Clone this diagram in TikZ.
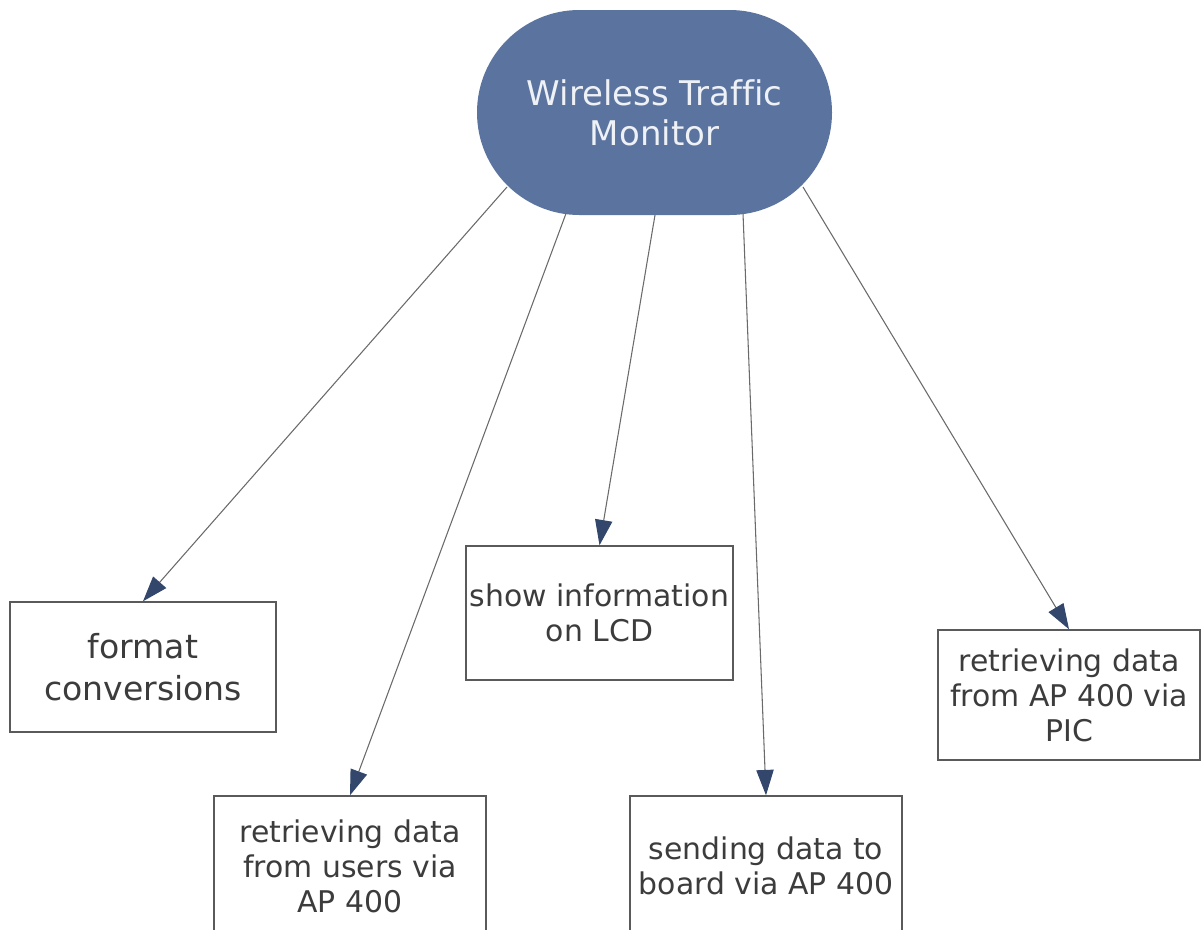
\documentclass[tikz,border=0pt]{standalone}
\usepackage{fontspec}
\setmainfont[Ligatures=NoCommon]{DejaVu Sans}
\usetikzlibrary{arrows.meta,calc}
\definecolor{hubfill}{HTML}{5B739F}
\definecolor{hubtext}{HTML}{EEF1F5}
\definecolor{boxline}{HTML}{5A5A5A}
\definecolor{boxtext}{HTML}{3C3C3C}
\definecolor{linkline}{HTML}{6A6A6A}
\definecolor{tipfill}{HTML}{33466B}
\tikzset{
  hub/.style={draw=none, fill=hubfill, rounded corners=76.8pt, minimum width=266.25pt, minimum height=153.75pt,
    text=hubtext, align=center, inner sep=0pt, font=\fontsize{25.5}{30}\selectfont},
  taskbox/.style={draw=boxline, line width=1.1pt, fill=white, text=boxtext, align=center,
    inner sep=0pt, font=\fontsize{22.4}{26.3}\selectfont},
  link/.style={draw=linkline, line width=0.8pt,
    -{Triangle[length=19pt,width=13pt,color=tipfill,fill=tipfill]}}
}
\begin{document}
\begin{tikzpicture}[x=0.75pt,y=-0.75pt]
  \useasboundingbox (0,0) rectangle (1201,929);

  % central concept
  \node[hub] (wtm) at (654.5,112.5) {Wireless Traffic\\Monitor};

  % task boxes (sizes in pt)
  \node[taskbox, minimum width=199.5pt, minimum height=97.5pt, font=\fontsize{24.8}{31.5}\selectfont]
    (fmt) at (143,667) {format\\conversions};
  \node[taskbox, minimum width=200.25pt, minimum height=100.5pt] (lcd) at (599.5,613) {show information\\on LCD};
  \node[taskbox, minimum width=196.5pt, minimum height=97.5pt] (pic) at (1069,695) {retrieving data\\from AP 400 via\\PIC};
  \node[taskbox, minimum width=204pt, minimum height=105pt] (usr) at (350,866) {retrieving data\\from users via\\AP 400};
  \node[taskbox, minimum width=204pt, minimum height=105pt] (snd) at (766,866) {sending data to\\board via AP 400};

  % connectors from the hub
  \draw[link] ($(wtm.center)+(-147.5,74.5)$) -- (fmt.north);
  \draw[link] ($(wtm.center)+(-88.5,101)$) -- (usr.north);
  \draw[link] ($(wtm.center)+(0.5,102.5)$) -- (lcd.north);
  \draw[link] ($(wtm.center)+(88.5,101)$) -- (snd.north);
  \draw[link] ($(wtm.center)+(148.5,74.5)$) -- (pic.north);
\end{tikzpicture}
\end{document}
